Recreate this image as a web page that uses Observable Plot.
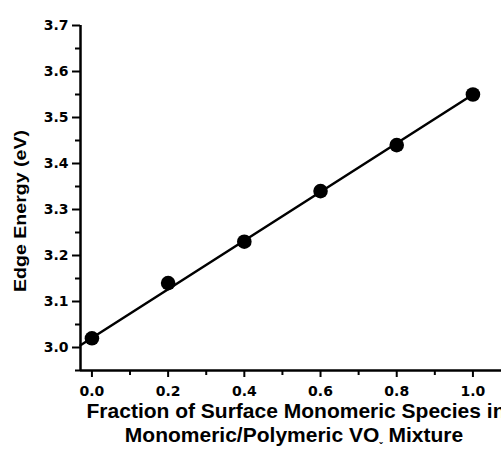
<!DOCTYPE html>
<html><head><meta charset="utf-8">
<script src="https://cdn.jsdelivr.net/npm/d3@7"></script>
<script src="https://cdn.jsdelivr.net/npm/@observablehq/plot@0.6"></script>
<style>body{margin:0;background:#fff}</style>
</head><body><div id="chart"></div>
<script>
const fraction = [0.0, 0.2, 0.4, 0.6, 0.8, 1.0];
const edgeEnergy = [3.02, 3.14, 3.23, 3.34, 3.44, 3.55];
const fitX = [-0.03, 1.0];
const fitY = [3.005, 3.55];
const yMajor = [3.0, 3.1, 3.2, 3.3, 3.4, 3.5, 3.6, 3.7];
const yMinor = [2.95, 3.05, 3.15, 3.25, 3.35, 3.45, 3.55, 3.65];
const xMajor = [0.0, 0.2, 0.4, 0.6, 0.8, 1.0];
const xMinor = [0.1, 0.3, 0.5, 0.7, 0.9];
const yLabel = "Edge Energy (eV)";
const xLabel1 = "Fraction of Surface Monomeric Species in";
const xLabel2a = "Monomeric/Polymeric VO";
const xLabel2sub = "ˇ";
const xLabel2b = " Mixture";

const points = fraction.map((x, i) => ({x, y: edgeEnergy[i]}));
const fit = fitX.map((x, i) => ({x, y: fitY[i]}));
const tickFont = "'DejaVu Sans', sans-serif";

const svg = Plot.plot({
  width: 501, height: 449,
  marginLeft: 80, marginTop: 25, marginBottom: 79, marginRight: 0,
  style: {fontFamily: "'Liberation Sans', Arial, sans-serif", fontWeight: "bold", color: "#000", background: "#fff"},
  x: {domain: [-0.03, 1.075]},
  y: {domain: [2.95, 3.7]},
  marks: [
    Plot.axisY({ticks: yMinor, tickSize: 5, tickFormat: () => "", strokeWidth: 2, label: null}),
    Plot.axisY({ticks: yMajor, tickSize: 8, tickPadding: 4, tickFormat: d => d.toFixed(1), strokeWidth: 2, fontSize: 14, fontFamily: tickFont, fontWeight: "bold", label: null}),
    Plot.axisX({ticks: xMinor, tickSize: 5, tickFormat: () => "", strokeWidth: 2, label: null}),
    Plot.axisX({ticks: xMajor, tickSize: 7, tickPadding: 9, tickFormat: d => d.toFixed(1), strokeWidth: 2, fontSize: 14, fontFamily: tickFont, fontWeight: "bold", label: null}),
    Plot.ruleX([-0.03], {strokeWidth: 2.5}),
    Plot.ruleY([2.95], {strokeWidth: 2.5}),
    Plot.line(fit, {x: "x", y: "y", stroke: "#000", strokeWidth: 2.5}),
    Plot.dot(points, {x: "x", y: "y", r: 7.3, fill: "#000", stroke: "none"})
  ]
});

const s = d3.select(svg);
s.append("text")
  .attr("transform", "translate(26,211) rotate(-90)")
  .attr("text-anchor", "middle")
  .attr("font-size", 16).attr("font-weight", "bold")
  .attr("textLength", 162).attr("lengthAdjust", "spacingAndGlyphs")
  .text(yLabel);
s.append("text")
  .attr("x", 296).attr("y", 418)
  .attr("text-anchor", "middle")
  .attr("font-size", 21).attr("font-weight", "bold")
  .text(xLabel1);
const t2 = s.append("text")
  .attr("x", 294).attr("y", 442)
  .attr("text-anchor", "middle")
  .attr("font-size", 21).attr("font-weight", "bold");
t2.append("tspan").text(xLabel2a);
t2.append("tspan").attr("font-size", 10).attr("dy", 8).text(xLabel2sub);
t2.append("tspan").attr("dy", -8).text(xLabel2b);

document.getElementById("chart").appendChild(svg);
</script>
</body></html>
